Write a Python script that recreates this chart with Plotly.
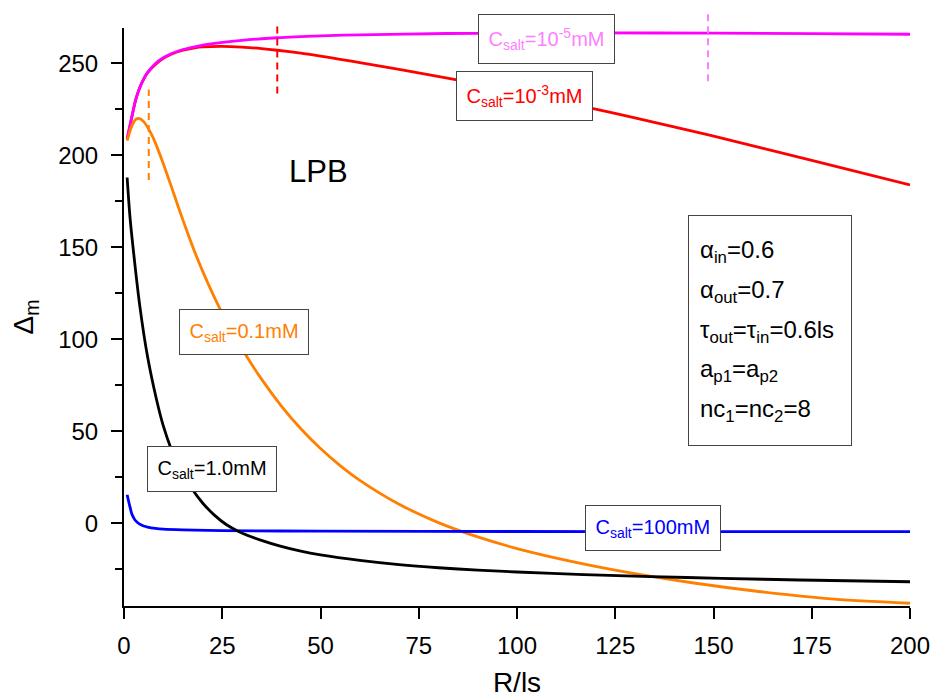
import plotly.graph_objects as go

# ---------------- data ----------------
R_MAG = [0.8, 2, 3, 4, 5, 6, 8, 10, 12, 15, 18, 23, 30, 39, 50, 60, 82, 100, 120, 150, 175, 200]
D_MAG = [209, 221, 230.5, 236.8, 241.5, 245, 250, 253.1, 255.3, 257.6, 259.1, 260.9, 262.6, 264.0, 265.0, 265.6, 266.3, 266.5, 266.6, 266.5, 266.2, 265.9]

R_RED = [0.8, 2, 3, 4, 5, 6, 8, 10, 12, 15, 18, 20, 25, 30, 35, 39, 45, 50, 55, 60, 70, 84, 100, 119.4, 130, 149, 175, 200]
D_RED = [209, 221, 230.5, 236.8, 241.5, 245, 249.5, 252.8, 255, 257.2, 258.5, 259, 259.3, 258.9, 258.1, 257.2, 255.6, 254, 252.3, 250.5, 246.8, 241.3, 234.5, 225.5, 220.4, 211, 197.3, 184]

R_ORA = [0.8, 2, 3, 4, 5, 6, 7, 8, 10, 12, 14, 16, 18, 20, 22.5, 25, 27.5, 30, 35, 40, 45, 50,
         55, 60, 70, 80, 90, 100, 115, 130, 145, 160, 180, 200]
D_ORA = [208, 216, 219.6, 220.0, 218.4, 215.4, 211.4, 206.7, 195.5, 183.3, 170.9, 158.9, 147.5, 137.1, 125.1, 114.1, 104.1, 94.85, 78.35, 63.85, 51.35, 40.6,
         31.35, 23.35, 10.35, 0.35, -7.45, -13.75, -21.25, -27.4, -32.5, -36.7, -41.1, -43.5]

R_BLK = [0.8, 1.5, 2.3, 4, 6, 8.3, 10, 12, 14, 17.2, 20, 23, 26, 29.3, 35, 40, 45, 50, 60, 70, 80, 90, 100, 117, 134, 152, 172, 200]
D_BLK = [188, 167, 150, 118.5, 90.5, 67, 52.9, 40.4, 30.4, 19, 11, 4.4, -0.7, -4.6, -9.3, -12.6, -15.2, -17.2, -20.2, -22.5, -24.2, -25.5, -26.5, -27.9, -29.0, -29.95, -30.85, -31.8]

R_BLU = [0.8, 1.5, 2, 2.5, 3, 4, 5, 6, 8, 10, 15, 25, 50, 100, 150, 200]
D_BLU = [15.5, 9, 5, 2.8, 1.3, -0.5, -1.5, -2.1, -2.8, -3.2, -3.6, -4.0, -4.3, -4.5, -4.6, -4.6]

# dashed markers (x position, bottom and top value)
DASH_X = [6.3, 39, 148.6]
DASH_Y0 = [186.6, 233.7, 240.4]
DASH_Y1 = [235.9, 271.8, 278.9]
DASH_C = ["#ff8000", "#ff0000", "#ff80ff"]

X_RANGE = [0, 200]
Y_RANGE = [-45, 269.3]
X_TICKS = [0, 25, 50, 75, 100, 125, 150, 175, 200]
Y_TICKS = [0, 50, 100, 150, 200, 250]
Y_MINOR = [-25, 25, 75, 125, 175, 225]

FONT = "Arial, 'Liberation Sans', sans-serif"

fig = go.Figure()

series = [
    (R_RED, D_RED, "#ff0000"),
    (R_MAG, D_MAG, "#ff00ff"),
    (R_ORA, D_ORA, "#ff8000"),
    (R_BLU, D_BLU, "#0000ff"),
    (R_BLK, D_BLK, "#000000"),
]
for xs, ys, c in series:
    fig.add_trace(go.Scatter(x=xs, y=ys, mode="lines",
                             line=dict(color=c, width=2.8, shape="spline", smoothing=0.8),
                             showlegend=False, hoverinfo="skip"))

span = Y_RANGE[1] - Y_RANGE[0]
for xv, y0, y1, c in zip(DASH_X, DASH_Y0, DASH_Y1, DASH_C):
    fig.add_shape(type="line", xref="x", yref="y domain",
                  x0=xv, x1=xv,
                  y0=(y0 - Y_RANGE[0]) / span, y1=(y1 - Y_RANGE[0]) / span,
                  line=dict(color=c, width=2, dash="7px,5px"))

# curve labels
LABELS = [
    (107.5, 263.2, "C<sub>salt</sub>=10<sup>-5</sup>mM", "#ff80ff"),
    (101.8, 232.1, "C<sub>salt</sub>=10<sup>-3</sup>mM", "#ff0000"),
    (30.6, 103.9, "C<sub>salt</sub>=0.1mM", "#ff8000"),
    (22.4, 29.7, "C<sub>salt</sub>=1.0mM", "#000000"),
    (134.5, -2.7, "C<sub>salt</sub>=100mM", "#0000ff"),
]
for xv, yv, txt, c in LABELS:
    fig.add_annotation(x=xv, y=yv, xref="x", yref="y", text=txt, showarrow=False,
                       font=dict(family=FONT, size=20, color=c),
                       bgcolor="white", bordercolor="#444444", borderwidth=1,
                       borderpad=9.5)

fig.add_annotation(x=49.6, y=191.1, xref="x", yref="y", text="LPB", showarrow=False,
                   font=dict(family=FONT, size=31, color="black"))

# parameter box
fig.add_annotation(x=164.5, y=104.8, xref="x", yref="y", text=" ", showarrow=False,
                   width=160, height=227, bgcolor="white",
                   bordercolor="#444444", borderwidth=1,
                   font=dict(family=FONT, size=20))
PARAMS = [
    "α<sub>in</sub>=0.6",
    "α<sub>out</sub>=0.7",
    "τ<sub>out</sub>=τ<sub>in</sub>=0.6ls",
    "a<sub>p1</sub>=a<sub>p2</sub>",
    "nc<sub>1</sub>=nc<sub>2</sub>=8",
]
PARAM_Y = [147.6, 126.1, 104.5, 83, 61.5]
for txt, yv in zip(PARAMS, PARAM_Y):
    fig.add_annotation(x=146.0, y=yv, xref="x", yref="y", text=txt, showarrow=False,
                       xanchor="left", font=dict(family=FONT, size=24, color="black"))

fig.update_layout(
    width=933, height=698,
    margin=dict(l=124, r=23, t=28, b=92),
    paper_bgcolor="white", plot_bgcolor="white",
    font=dict(family=FONT, size=24, color="black"),
    showlegend=False,
)
fig.update_xaxes(range=X_RANGE, tickvals=X_TICKS, ticks="outside", ticklen=11, tickwidth=2,
                 tickcolor="black", showline=True, linewidth=2, linecolor="black",
                 showgrid=False, zeroline=False, tickfont=dict(size=24), automargin=False,
                 ticklabelstandoff=6,
                 title=dict(text="R/ls", font=dict(size=28), standoff=22))
fig.update_yaxes(range=Y_RANGE, tickvals=Y_TICKS, ticks="outside", ticklen=11, tickwidth=2,
                 tickcolor="black", showline=True, linewidth=2, linecolor="black",
                 showgrid=False, zeroline=False, tickfont=dict(size=24), automargin=False,
                 ticklabelstandoff=8,
                 minor=dict(tickvals=Y_MINOR, ticks="outside", ticklen=7, tickwidth=2, tickcolor="black"),
                 title=dict(text="Δ<sub>m</sub>", font=dict(size=28), standoff=16))

fig.write_html("out.html")
